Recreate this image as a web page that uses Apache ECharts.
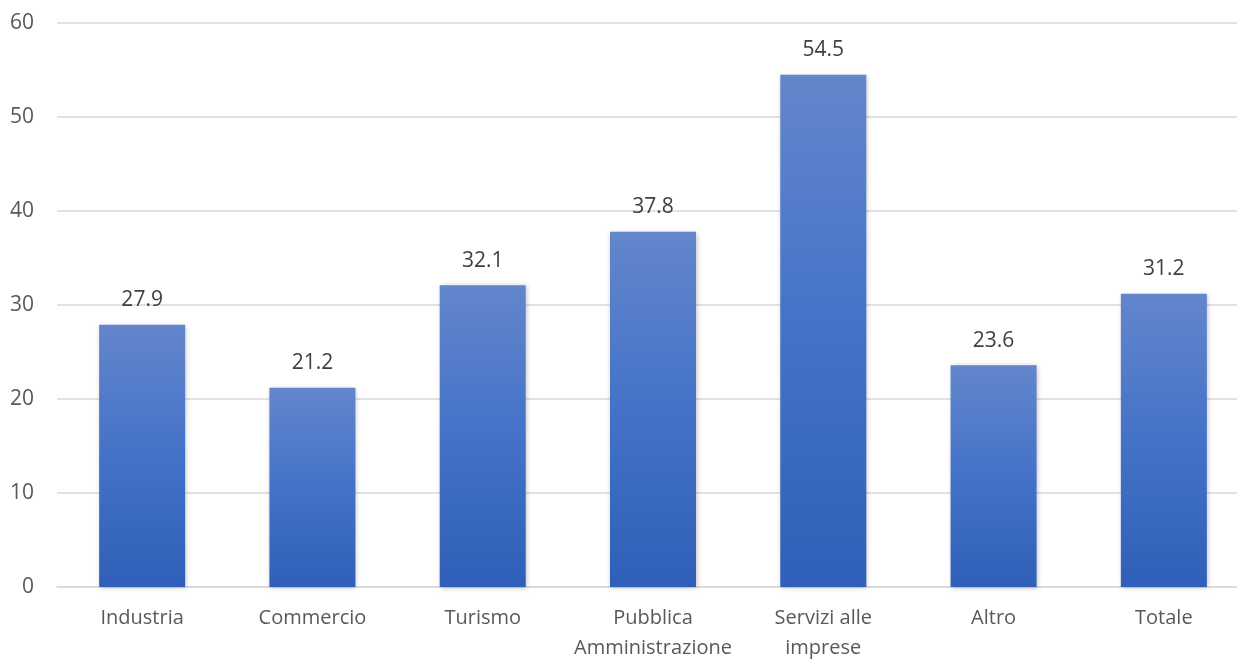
<!DOCTYPE html>
<html>
<head>
<meta charset="utf-8">
<script src="https://cdn.jsdelivr.net/npm/echarts@6/dist/echarts.min.js"></script>
<style>
  html, body { margin: 0; padding: 0; background: #fff; }
  #chart { width: 1237px; height: 659px; }
</style>
</head>
<body>
<div id="chart"></div>
<script>
// Settori di attività
const categories = ['Industria', 'Commercio', 'Turismo', 'Pubblica\nAmministrazione', 'Servizi alle\nimprese', 'Altro', 'Totale'];
// Valori percentuali
const values = [27.9, 21.2, 32.1, 37.8, 54.5, 23.6, 31.2];
// Scala dell'asse verticale
const yTicks = [0, 10, 20, 30, 40, 50, 60];

const font = '"Open Sans", "Liberation Sans", sans-serif';
const chart = echarts.init(document.getElementById('chart'));

chart.setOption({
  animation: false,
  grid: { left: 57, right: -12, top: 23, bottom: 72, containLabel: false, outerBoundsMode: 'none' },
  xAxis: {
    type: 'category',
    data: categories,
    axisTick: { show: false },
    axisLine: { lineStyle: { color: '#d9d9d9', width: 1.5 } },
    axisLabel: {
      color: '#595959', fontFamily: font, fontSize: 20, lineHeight: 30,
      margin: 16, interval: 0
    }
  },
  yAxis: {
    type: 'value',
    min: yTicks[0], max: yTicks[yTicks.length - 1], interval: 10,
    axisLine: { show: false },
    axisTick: { show: false },
    splitLine: { lineStyle: { color: '#d9d9d9', width: 1.5 } },
    axisLabel: { color: '#595959', fontFamily: font, fontSize: 21, margin: 23 }
  },
  series: [{
    type: 'bar',
    data: values,
    barWidth: 86,
    itemStyle: {
      color: new echarts.graphic.LinearGradient(0, 0, 0, 1, [
        { offset: 0, color: '#6386cc' },
        { offset: 0.5, color: '#4472c8' },
        { offset: 1, color: '#2f5fb8' }
      ]),
      shadowColor: 'rgba(0,0,0,0.25)',
      shadowBlur: 5,
      shadowOffsetX: 1,
      shadowOffsetY: 1
    },
    label: {
      show: true,
      position: 'top',
      distance: 14,
      color: '#404040',
      fontFamily: font,
      fontSize: 21,
      formatter: p => p.value.toFixed(1)
    }
  }]
});
</script>
</body>
</html>
